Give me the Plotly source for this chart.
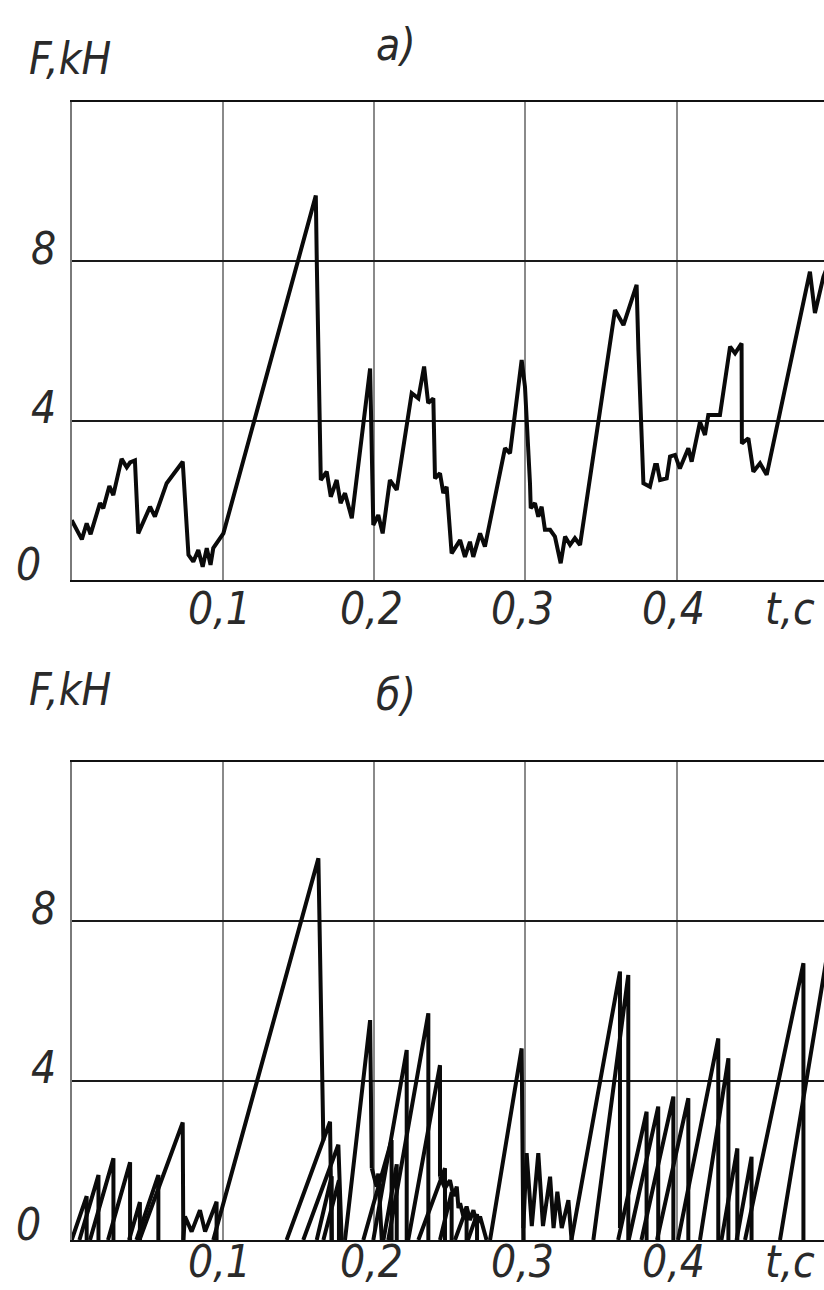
import plotly.graph_objects as go

# ---------------- data ----------------
# (a) total force, F [kN] vs t [s]
top_t = [0.0000, 0.0067, 0.0099, 0.0125, 0.0187, 0.0209, 0.0249, 0.0275, 0.0330, 0.0364,
         0.0386, 0.0418, 0.0440, 0.0518, 0.0550, 0.0628, 0.0734, 0.0772, 0.0804, 0.0837,
         0.0866, 0.0893, 0.0918, 0.0936, 0.1003, 0.1614, 0.1621, 0.1631, 0.1642, 0.1647,
         0.1686, 0.1713, 0.1752, 0.1778, 0.1807, 0.1852, 0.1973, 0.1984, 0.1994, 0.2027,
         0.2056, 0.2104, 0.2149, 0.2248, 0.2292, 0.2330, 0.2357, 0.2391, 0.2402, 0.2435,
         0.2457, 0.2479, 0.2512, 0.2568, 0.2600, 0.2633, 0.2655, 0.2700, 0.2732, 0.2865,
         0.2898, 0.2975, 0.2997, 0.3030, 0.3035, 0.3063, 0.3085, 0.3107, 0.3129, 0.3163,
         0.3195, 0.3233, 0.3262, 0.3295, 0.3327, 0.3361, 0.3592, 0.3648, 0.3735, 0.3747,
         0.3780, 0.3823, 0.3857, 0.3870, 0.3890, 0.3934, 0.3956, 0.3989, 0.4021, 0.4077,
         0.4099, 0.4154, 0.4187, 0.4209, 0.4286, 0.4353, 0.4386, 0.4429, 0.4431, 0.4474,
         0.4507, 0.4551, 0.4595, 0.4881, 0.4914, 0.4970, 0.5000]
top_F = [1.50, 1.02, 1.42, 1.15, 1.93, 1.80, 2.36, 2.13, 3.04, 2.83,
         2.95, 3.00, 1.17, 1.84, 1.59, 2.43, 2.97, 0.63, 0.46, 0.75,
         0.33, 0.80, 0.38, 0.80, 1.17, 9.65, 7.87, 6.03, 4.27, 2.51,
         2.72, 2.09, 2.51, 1.93, 2.18, 1.55, 5.31, 2.68, 1.38, 1.63,
         1.17, 2.51, 2.26, 4.69, 4.56, 5.36, 4.44, 4.56, 2.55, 2.68,
         2.18, 2.34, 0.67, 1.00, 0.58, 0.96, 0.58, 1.17, 0.84, 3.31,
         3.18, 5.52, 4.85, 2.43, 1.80, 1.93, 1.59, 1.84, 1.26, 1.26,
         1.09, 0.42, 1.09, 0.88, 1.05, 0.88, 6.78, 6.40, 7.41, 5.77,
         2.43, 2.34, 2.89, 2.89, 2.51, 2.55, 3.10, 3.14, 2.80, 3.31,
         2.97, 3.97, 3.64, 4.14, 4.14, 5.86, 5.69, 5.94, 3.43, 3.56,
         2.72, 2.93, 2.64, 7.74, 6.70, 7.61, 7.90]

# (б) individual tooth loads: linear rise from start to peak, then drop
tooth_start_t = [0.0000, 0.0051, 0.0121, 0.0240, 0.0379, 0.0428, 0.0448, 0.0936, 0.1421, 0.1531,
                 0.1620, 0.1664, 0.1807, 0.1928, 0.1994, 0.2061, 0.2093, 0.2225, 0.2292, 0.2435,
                 0.2534, 0.2620, 0.2766, 0.3304, 0.3449, 0.3613, 0.3683, 0.3767, 0.3870, 0.4009,
                 0.4154, 0.4296, 0.4396, 0.4452, 0.4683]
tooth_peak_t = [0.0099, 0.0177, 0.0276, 0.0386, 0.0451, 0.0573, 0.0734, 0.1631, 0.1708, 0.1763,
                0.1719, 0.1767, 0.1973, 0.2115, 0.2215, 0.2149, 0.2358, 0.2435, 0.2468, 0.2512,
                0.2611, 0.2680, 0.2975, 0.3625, 0.3680, 0.3801, 0.3878, 0.3978, 0.4077, 0.4275,
                0.4342, 0.4401, 0.4495, 0.4838, 0.5010]
tooth_peak_F = [1.10, 1.63, 2.05, 1.95, 0.95, 1.63, 2.95, 9.58, 2.97, 2.39,
                1.60, 1.50, 5.52, 2.51, 4.77, 1.90, 5.69, 4.39, 1.80, 1.20,
                0.80, 0.65, 4.81, 6.74, 6.65, 3.22, 3.35, 3.60, 3.56, 5.06,
                4.56, 2.30, 2.09, 6.95, 7.50]
tooth_end_t = [0.0099, 0.0177, 0.0276, 0.0386, 0.0451, 0.0573, 0.0738, 0.1664, 0.1719, 0.1785,
               0.1719, 0.1767, 0.1984, 0.2115, 0.2215, 0.2149, 0.2358, 0.2435, 0.2468, 0.2512,
               0.2611, 0.2680, 0.2986, 0.3625, 0.3680, 0.3801, 0.3878, 0.3978, 0.4077, 0.4275,
               0.4342, 0.4401, 0.4495, 0.4838, 0.5010]
tooth_end_F = [0.0, 0.0, 0.0, 0.0, 0.0, 0.0, 0.0, 2.50, 0.0, 0.0,
               0.0, 0.0, 1.80, 0.0, 0.0, 0.0, 0.0, 1.59, 0.0, 0.0,
               0.0, 0.0, 0.0, 0.30, 0.0, 0.0, 0.0, 0.0, 0.0, 0.0,
               0.0, 0.0, 0.0, 0.0, 0.0]

# (б) small oscillating pieces between teeth
wig1_t = [0.0738, 0.0749, 0.0793, 0.0848, 0.0882, 0.0958, 0.0958]
wig1_F = [0.00, 0.59, 0.21, 0.75, 0.21, 0.96, 0.00]
wig2_t = [0.1984, 0.1994, 0.2016, 0.2027, 0.2038, 0.2050]
wig2_F = [1.80, 1.67, 1.34, 1.67, 1.00, 0.00]
wig3_t = [0.2435, 0.2468, 0.2501, 0.2524, 0.2546, 0.2557, 0.2568, 0.2589, 0.2611, 0.2633,
          0.2656, 0.2678, 0.2700, 0.2743]
wig3_F = [1.59, 1.30, 1.50, 1.10, 1.34, 0.80, 0.92, 0.60, 0.84, 0.50,
          0.75, 0.40, 0.59, 0.00]
wig4_t = [0.2986, 0.3008, 0.3042, 0.3085, 0.3116, 0.3163, 0.3186, 0.3211, 0.3240, 0.3284, 0.3305]
wig4_F = [0.30, 2.18, 0.35, 2.18, 0.35, 1.59, 0.30, 1.21, 0.30, 1.00, 0.00]

x_tick_vals = [0.1, 0.2, 0.3, 0.4]
x_tick_text = ["0,1", "0,2", "0,3", "0,4"]
y_tick_vals = [0, 4, 8]
y_tick_text = ["0", "4", "8"]
x_range = [0.0, 0.4974]
y_range = [0.0, 12.0]

# ---------------- build ----------------
W, H = 824, 1290
X0 = 71.7  # left edge of plotting area, px


def py(p):
    return 1 - p / H


teeth_x, teeth_y = [], []
for s, pt, pf, et, ef in zip(tooth_start_t, tooth_peak_t, tooth_peak_F, tooth_end_t, tooth_end_F):
    teeth_x += [s, pt, et, None]
    teeth_y += [0.0, pf, ef, None]

wig_x, wig_y = [], []
for tt, ff in [(wig1_t, wig1_F), (wig2_t, wig2_F), (wig3_t, wig3_F), (wig4_t, wig4_F)]:
    wig_x += list(tt) + [None]
    wig_y += list(ff) + [None]

line_style = dict(color="#0a0a0a", width=4)

fig = go.Figure()
fig.add_trace(go.Scatter(x=top_t, y=top_F, mode="lines", line=line_style,
                         xaxis="x", yaxis="y", showlegend=False))
fig.add_trace(go.Scatter(x=teeth_x, y=teeth_y, mode="lines", line=line_style,
                         xaxis="x2", yaxis="y2", showlegend=False, connectgaps=False))
fig.add_trace(go.Scatter(x=wig_x, y=wig_y, mode="lines", line=line_style,
                         xaxis="x2", yaxis="y2", showlegend=False, connectgaps=False))

xax = dict(range=x_range, tickvals=x_tick_vals, showticklabels=False, ticks="",
           showgrid=True, gridcolor="#8a8a8a", gridwidth=2, zeroline=False,
           showline=True, linecolor="#111111", linewidth=2, mirror=True,
           domain=[X0 / W, 1.0], fixedrange=True)
yax = dict(range=y_range, tickvals=[4, 8], showticklabels=False, ticks="",
           showgrid=True, gridcolor="#1a1a1a", gridwidth=1.6, zeroline=False,
           showline=True, linecolor="#7a7a7a", linewidth=2, fixedrange=True)

fig.update_layout(
    width=W, height=H,
    margin=dict(l=0, r=0, t=0, b=0),
    paper_bgcolor="white", plot_bgcolor="white",
    xaxis=dict(xax, anchor="y"),
    yaxis=dict(yax, anchor="x", domain=[py(580), py(102)]),
    xaxis2=dict(xax, anchor="y2"),
    yaxis2=dict(yax, anchor="x2", domain=[py(1240), py(762)]),
)

font = dict(family="DejaVu Sans Condensed, Liberation Sans Narrow, DejaVu Sans, sans-serif",
            size=44, color="#2a2a2a", style="italic")

ann = []
panels = [("x", "y", 580, 28, 58, "а)", 45), ("x2", "y2", 1240, 21, 690, "б)", 694)]
for xr, yr, base_px, lab_off, flab_y, ptitle, title_y in panels:
    ann.append(dict(text="F,kH", xref="paper", yref="paper", x=70 / W, y=py(flab_y),
                    xanchor="center", yanchor="middle", showarrow=False, font=font))
    ann.append(dict(text=ptitle, xref="paper", yref="paper", x=396 / W, y=py(title_y),
                    xanchor="center", yanchor="middle", showarrow=False, font=font))
    ann.append(dict(text="t,c", xref="paper", yref="paper", x=790 / W, y=py(base_px + lab_off),
                    xanchor="center", yanchor="middle", showarrow=False, font=font))
    for v, s in zip(x_tick_vals, x_tick_text):
        ann.append(dict(text=s, xref=xr, yref="paper", x=v, y=py(base_px + lab_off),
                        xanchor="center", yanchor="middle", showarrow=False, font=font,
                        xshift=-3))
    for v, s in zip(y_tick_vals, y_tick_text):
        xpx = 28 if v == 0 else 43
        ann.append(dict(text=s, xref="paper", yref=yr, x=xpx / W, y=v,
                        xanchor="center", yanchor="middle", showarrow=False, font=font,
                        yshift=16 if v == 0 else 13))

fig.update_layout(annotations=ann)
fig.write_html("out.html",
               config={"displayModeBar": False},
               post_script="document.body.style.margin='0';document.body.style.padding='0';")
